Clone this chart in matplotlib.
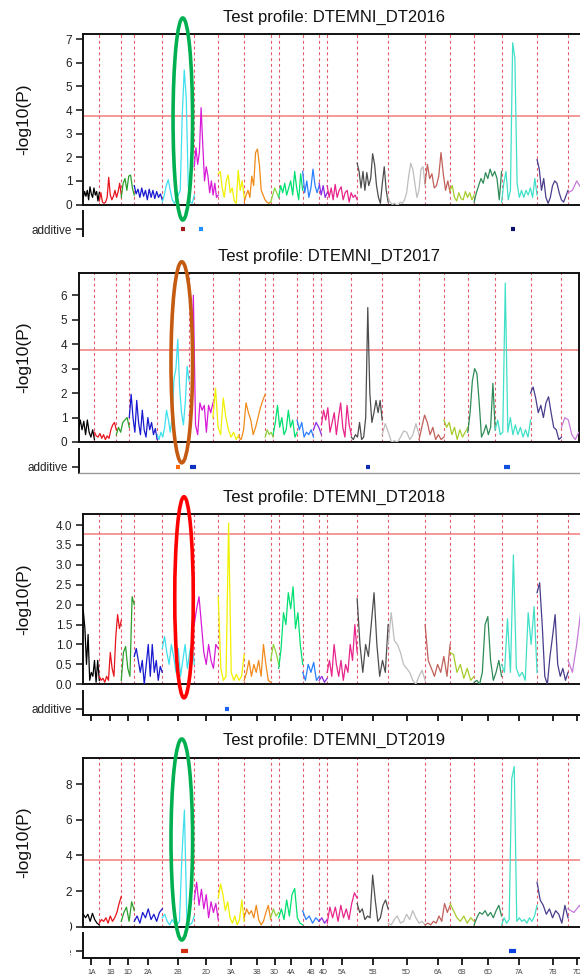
import matplotlib
matplotlib.use("Agg")
import matplotlib.pyplot as plt
from matplotlib.patches import Ellipse, Rectangle
import numpy as np

plt.rcParams['font.family'] = ['Liberation Sans', 'DejaVu Sans']

W, H = 580, 976

chromosomes = ['1A', '1B', '1D', '2A', '2B', '2D', '3A', '3B', '3D', '4A', '4B', '4D',
               '5A', '5B', '5D', '6A', '6B', '6D', '7A', '7B', '7D']
chrom_len_cM = [128, 176, 104, 224, 256, 192, 208, 212, 64, 192, 132, 64,
                240, 248, 296, 200, 192, 220, 284, 248, 139]
chrom_colors = ['#000000', '#e8141c', '#2ca02c', '#1818d0', '#3ee0ee', '#d81ad8', '#f0f000',
                '#f08a1a', '#8fd43c', '#00e070', '#2a7fff', '#8a2be2', '#e8248c', '#4d4d4d',
                '#bdbdbd', '#c0605a', '#a6cc2a', '#2e8b57', '#40e0c8', '#483d8b', '#c47ad8']

threshold = 3.77

dt2016 = [
    [0.3, 0.55, 0.35, 0.6, 0.2, 0.75, 0.45, 0.3, 0.7, 0.4, 0.55, 0.15, 0.5],
    [0.15, 0.5, 0.1, 0.05, 0.1, 0.3, 1.15, 0.4, 0.2, 0.35, 0.6, 0.3, 0.55, 0.9, 0.4],
    [0.3, 0.9, 1.1, 0.6, 1.2, 1.25, 0.7, 0.4],
    [0.8, 0.45, 0.65, 0.3, 0.7, 0.35, 0.6, 0.2, 0.65, 0.3, 0.6, 0.25, 0.55, 0.3, 0.45, 0.2],
    [0.1, 0.4, 0.8, 1.05, 0.6, 0.2, 0.05, 0.2, 0.4, 0.6, 3.8, 5.7, 4.5, 0.8, 0.1, 0.05, 0.4],
    [1.6, 2.4, 1.7, 2.2, 4.1, 2.5, 1.0, 1.6, 1.2, 0.5, 1.0, 0.4, 0.9, 0.3, 0.4],
    [1.3, 1.4, 0.7, 0.3, 1.0, 1.25, 0.5, 0.7, 0.15, 0.05, 1.45, 0.6, 1.0, 0.3],
    [0.1, 0.4, 0.6, 0.3, 1.2, 0.8, 2.2, 2.35, 1.7, 0.6, 0.4, 0.2, 0.1, 0.05, 0.1],
    [0.1, 0.4, 0.7, 0.5, 0.3],
    [0.3, 0.8, 0.5, 0.9, 0.4, 0.7, 1.0, 0.4, 1.4, 0.7, 0.2, 1.3, 0.6],
    [1.4, 0.5, 1.0, 0.3, 0.7, 1.5, 0.8, 0.5, 0.8],
    [0.9, 0.4, 0.8, 0.3, 0.5],
    [0.8, 0.3, 0.7, 0.2, 0.85, 0.3, 0.6, 0.75, 0.2, 0.5, 0.6, 0.1, 0.5, 0.3, 0.4, 0.2],
    [1.75, 1.4, 0.7, 1.4, 0.6, 1.35, 0.8, 1.1, 2.15, 1.7, 0.8, 0.3, 0.05, 0.9, 1.6, 0.6, 0.1],
    [0.3, 0.1, 0.0, 0.05, 0.0, 0.0, 0.1, 0.05, 0.2, 0.5, 1.2, 1.75, 1.5, 0.9, 0.3, 0.6, 1.5, 1.6, 0.8],
    [0.9, 1.7, 1.1, 1.3, 0.7, 0.8, 1.2, 2.2, 1.3, 0.6, 1.0, 0.5],
    [0.6, 0.8, 0.3, 0.15, 0.5, 0.25, 0.2, 0.55, 0.3, 0.5, 0.2, 0.4],
    [0.1, 0.5, 0.8, 1.1, 0.9, 1.35, 1.1, 1.5, 1.2, 1.4, 1.1, 0.2, 1.4],
    [0.1, 0.9, 1.4, 0.2, 0.6, 6.85, 6.2, 0.9, 0.3, 0.6, 0.3, 0.6, 0.4, 0.7, 0.3, 1.1, 0.4],
    [1.9, 1.5, 0.6, 1.1, 0.3, 0.05, 0.3, 0.8, 1.0, 0.9, 0.5, 0.2, 0.1, 0.35, 0.6],
    [0.5, 0.6, 1.0, 0.7, 0.3],
]

dt2017 = [
    [0.5, 0.9, 0.5, 0.85, 0.3, 0.9, 0.4, 0.2, 0.5, 0.1],
    [0.4, 0.25, 0.2, 0.35, 0.15, 0.3, 0.1, 0.25, 0.15, 0.5, 0.7, 0.8, 0.5],
    [0.3, 0.6, 0.4, 0.8, 0.9, 1.0, 0.6],
    [1.0, 1.95, 1.0, 0.4, 1.7, 0.8, 0.3, 1.3, 0.5, 0.2, 1.0, 0.5, 0.8, 0.3, 0.55, 0.1],
    [0.3, 0.1, 0.4, 0.2, 0.6, 1.3, 0.9, 0.4, 1.0, 2.6, 3.0, 4.2, 2.2, 1.2, 0.7, 1.6, 3.1, 2.5],
    [1.1, 0.9, 6.0, 0.7, 0.3, 1.6, 1.3, 1.5, 0.4, 1.5, 1.2, 1.6],
    [1.0, 2.2, 0.6, 0.3, 1.8, 1.0, 0.5, 0.2, 0.4, 0.1, 0.3],
    [0.2, 0.1, 0.5, 1.6, 1.2, 0.9, 0.3, 0.6, 1.0, 1.4, 1.7, 1.95],
    [0.2, 0.5, 0.3, 0.4, 0.2],
    [0.3, 0.8, 1.5, 0.6, 1.0, 0.3, 0.5, 1.3, 0.6, 0.9, 0.2, 0.4],
    [0.9, 0.5, 0.8, 0.2, 0.4, 0.3, 0.5, 0.2],
    [0.5, 0.8, 0.6, 0.3],
    [0.7, 1.3, 0.9, 1.4, 0.4, 0.8, 1.2, 0.3, 1.0, 1.6, 0.6, 0.2, 1.5, 0.7, 0.3],
    [0.2, 0.1, 0.3, 0.2, 0.8, 0.1, 0.2, 1.0, 5.5, 2.0, 0.8, 1.2, 1.7, 1.2, 1.7, 0.9],
    [0.3, 0.75, 0.4, 0.0, 0.05, 0.0, 0.2, 0.45, 0.4, 0.1, 0.3, 0.75, 0.3],
    [0.1, 0.6, 1.1, 0.8, 0.3, 0.6, 0.1, 0.3, 0.1, 0.2],
    [0.9, 0.6, 0.8, 0.3, 0.6, 0.1, 0.5, 0.2, 0.4, 0.6],
    [0.4, 1.2, 2.5, 3.0, 2.8, 1.6, 0.2, 0.4, 0.7, 0.3, 0.6, 2.4, 0.5],
    [0.5, 0.9, 0.3, 0.4, 6.5, 0.4, 1.0, 0.3, 0.7, 0.3, 0.6, 0.2, 0.5, 0.2, 0.9],
    [2.0, 2.25, 1.8, 1.2, 1.5, 1.0, 1.6, 1.85, 1.2, 0.6, 0.5, 0.1, 0.2],
    [0.6, 1.0, 0.9, 0.3, 0.1, 0.4],
]

dt2018 = [
    [1.85, 1.4, 0.5, 1.25, 0.1, 0.3, 0.2, 0.6, 0.05, 0.6, 0.1],
    [0.2, 0.1, 0.15, 0.05, 0.2, 0.1, 0.8, 0.4, 0.2, 1.2, 1.75, 1.4, 1.6],
    [0.1, 0.8, 0.95, 0.4, 0.2, 2.2, 2.0],
    [0.7, 0.9, 0.6, 0.3, 0.6, 0.0, 0.5, 1.0, 0.2, 1.0, 0.3, 0.6, 0.1, 0.45, 0.3],
    [0.9, 1.2, 0.8, 0.5, 1.0, 0.7, 0.3, 0.9, 0.2, 0.6, 1.0, 0.4, 0.8, 1.1, 0.5],
    [1.5, 1.9, 2.2, 1.5, 0.8, 0.5, 1.0, 0.6, 0.4, 1.0, 0.9],
    [2.2, 0.4, 0.1, 0.2, 4.05, 0.3, 0.1, 0.25, 0.1, 0.2, 0.75],
    [0.1, 0.3, 0.6, 0.2, 0.5, 0.3, 0.6, 0.2, 1.0, 0.5, 0.1, 0.05],
    [0.6, 1.0, 0.8, 0.5],
    [0.4, 0.9, 1.8, 1.5, 2.3, 1.9, 2.45, 1.4, 1.8, 1.0, 0.5],
    [0.3, 0.1, 0.5, 0.3, 0.55, 0.1, 0.2],
    [0.1, 0.2, 0.05, 0.15],
    [0.3, 0.6, 0.2, 1.0, 0.5, 0.2, 0.6, 0.1, 0.5, 0.3, 1.0, 0.6, 1.5, 0.8],
    [2.15, 1.0, 0.3, 1.0, 0.7, 1.5, 2.3, 1.0, 0.2, 0.6, 0.3, 1.5],
    [1.0, 1.8, 1.1, 1.0, 0.8, 0.5, 0.4, 0.3, 0.1, 0.0, 0.2, 0.35, 0.1],
    [1.5, 0.6, 0.4, 0.2, 0.5, 0.3, 0.7, 0.2, 1.0],
    [0.8, 0.75, 0.3, 0.5, 0.15, 0.4, 0.1, 0.2],
    [0.05, 0.1, 0.0, 0.3, 1.5, 1.7, 0.6, 0.1, 0.3, 0.6, 0.2],
    [0.5, 0.3, 1.65, 0.3, 3.25, 0.4, 0.2, 0.3, 0.1, 1.8, 1.0, 1.95, 0.3],
    [2.3, 2.55, 1.5, 0.2, 0.0, 0.7, 1.2, 1.75, 0.5, 0.2, 0.4, 0.1, 0.3],
    [0.6, 0.3, 1.0, 1.9, 1.5],
]

dt2019 = [
    [0.7, 0.5, 0.7, 0.3, 0.75, 0.4, 0.2, 0.1],
    [0.2, 0.4, 0.3, 0.5, 0.2, 0.6, 0.3, 0.5, 0.8, 1.3, 1.7],
    [0.3, 0.8, 1.1, 0.3, 1.4, 0.9],
    [0.3, 0.6, 0.2, 0.8, 0.5, 1.0, 0.4, 0.7, 0.3, 0.8, 1.0],
    [0.5, 0.7, 0.3, 0.1, 0.4, 0.2, 0.1, 0.3, 4.0, 6.55, 0.4, 0.1, 0.2, 0.6],
    [1.5, 2.5, 1.2, 2.1, 1.0, 1.8, 0.5, 1.4, 0.8, 1.3, 0.4],
    [1.6, 2.4, 1.8, 0.9, 1.4, 0.5, 0.2, 0.6, 0.1, 0.4, 1.5, 0.3],
    [0.5, 1.0, 0.7, 0.9, 0.5, 1.2, 0.4, 0.1, 0.3, 0.8, 1.2, 0.4],
    [0.5, 1.0, 0.6, 0.8],
    [0.5, 1.0, 0.4, 1.5, 0.6, 1.8, 2.15, 0.5, 0.2, 0.1],
    [0.9, 0.4, 0.6, 0.2, 0.5, 0.3],
    [0.3, 0.5, 0.2, 0.4],
    [0.2, 1.1, 0.5, 1.1, 0.3, 1.2, 0.5, 1.0, 0.4, 1.3, 1.9, 1.6],
    [1.3, 0.8, 1.0, 0.4, 0.6, 0.5, 2.9, 1.5, 0.3, 0.5, 1.2, 1.5, 1.0],
    [0.2, 0.1, 0.4, 0.6, 0.2, 0.3, 0.7, 0.4, 0.9, 0.5, 0.2, 0.3, 0.1],
    [0.1, 0.2, 0.1, 0.3, 0.2, 0.6, 0.3, 1.3, 0.8, 1.2],
    [1.3, 0.9, 0.5, 0.3, 0.6, 0.2, 0.5, 0.3],
    [0.1, 0.5, 0.8, 0.7, 0.9, 0.6, 0.8, 0.5, 0.9, 1.2, 0.6],
    [0.1, 0.5, 0.2, 0.4, 8.3, 9.0, 0.3, 0.5, 0.3, 0.4, 0.2, 0.5, 0.3, 0.6, 1.2],
    [2.5, 1.5, 1.2, 0.7, 1.0, 0.5, 0.9, 0.7, 0.2, 1.2, 0.5],
    [1.0, 0.8, 1.2, 0.5],
]

# additive QTL markers: (chromosome, position cM, width cM, colour)
qtl2016 = [('2B', 164, 32, '#a01818'), ('2D', 52, 32, '#1e90ff'), ('7A', 91, 32, '#101070')]
qtl2017 = [('2B', 166, 30, '#ff6a10'), ('2D', 33, 44, '#1030c0'),
           ('5B', 136, 34, '#1030b0'), ('7A', 97, 48, '#1050e0')]
qtl2018 = [('3A', 73, 32, '#1e60f0')]
qtl2019 = [('2B', 177, 56, '#d03010'), ('7A', 91, 56, '#0a40e0')]

titles = ['Test profile: DTEMNI_DT2016', 'Test profile: DTEMNI_DT2017',
          'Test profile: DTEMNI_DT2018', 'Test profile: DTEMNI_DT2019']

# layout (pixels)
panels = [
    dict(data=dt2016, qtl=qtl2016, l=83.3, r=585.4, t=34.3, b=204.5, ymax=7.21,
         yticks=list(range(8)), fmt='{:g}', strip='none',
         ell=(182.8, 119, 19.5, 202, '#00b050')),
    dict(data=dt2017, qtl=qtl2017, l=78.5, r=578.7, t=273.3, b=442.0, ymax=6.9,
         yticks=list(range(7)), fmt='{:g}', strip='line',
         ell=(181.8, 362.3, 21.6, 201, '#c55a11')),
    dict(data=dt2018, qtl=qtl2018, l=83.3, r=585.4, t=514.3, b=684.3, ymax=4.27,
         yticks=[0, 0.5, 1, 1.5, 2, 2.5, 3, 3.5, 4], fmt='{:.1f}', strip='ticks',
         ell=(184, 597.3, 18.5, 201, '#ff0000')),
    dict(data=dt2019, qtl=qtl2019, l=83.3, r=585.4, t=757.7, b=926.7, ymax=9.49,
         yticks=[0, 2, 4, 6, 8], fmt='{:g}', strip='labels',
         ell=(181.8, 839.5, 21.6, 201, '#00b050')),
]


def box(l, t, r, b):
    return [l / W, 1 - b / H, (r - l) / W, (b - t) / H]


fig = plt.figure(figsize=(W / 100, H / 100), dpi=100)
ends = np.cumsum(chrom_len_cM)
starts = ends - np.array(chrom_len_cM)
centers = (starts + ends) / 2
total = ends[-1]
SPINE = 1.4

for p, title in zip(panels, titles):
    ax = fig.add_axes(box(p['l'], p['t'], p['r'], p['b']))
    for i, vals in enumerate(p['data']):
        x = np.linspace(starts[i], ends[i], len(vals))
        ax.plot(x, vals, color=chrom_colors[i], lw=0.9, zorder=3)
    for e in ends[:-1]:
        ax.axvline(e, color='#e05a6c', lw=0.8, ls=(0, (2.6, 2.6)), zorder=2)
    ax.axhline(threshold, color='#f27c7c', lw=1.1, zorder=2)
    ax.set_xlim(0, total)
    ax.set_ylim(0, p['ymax'])
    ax.set_xticks([])
    ax.set_yticks(p['yticks'])
    ax.set_yticklabels([p['fmt'].format(v) for v in p['yticks']])
    ax.tick_params(axis='y', length=5, width=1.2, labelsize=8.5, pad=3, colors='#222222')
    for s in ax.spines.values():
        s.set_linewidth(SPINE)
        s.set_color('#111111')
    cx = (p['l'] + p['r']) / 2
    fig.text(cx / W, 1 - (p['t'] - 17) / H, title, ha='center', va='center',
             fontsize=12, color='#111111')
    fig.text(24 / W, 1 - ((p['t'] + p['b']) / 2) / H, '-log10(P)', rotation=90,
             ha='center', va='center', fontsize=12.5, color='#111111')

    # additive strip
    st = p['b'] + 6.5
    sb = st + 24.5
    sax = fig.add_axes(box(p['l'], st, p['r'], sb))
    sax.set_xlim(0, total)
    sax.set_ylim(0, 1)
    sax.set_yticks([0.265])
    sax.set_yticklabels(['additive'])
    sax.tick_params(axis='y', length=5, width=1.2, labelsize=8.5, pad=3, colors='#222222')
    sax.spines['top'].set_visible(False)
    sax.spines['right'].set_visible(False)
    sax.spines['left'].set_linewidth(SPINE)
    sax.spines['left'].set_color('#111111')
    sax.patch.set_alpha(0)
    for chrom, pos, wid, col in p['qtl']:
        k = chromosomes.index(chrom)
        x0 = starts[k] + pos - wid / 2
        sax.hlines(0.265, x0, x0 + wid, color=col, lw=3.0, capstyle='butt', zorder=4)
    if p['strip'] == 'none':
        sax.spines['bottom'].set_visible(False)
        sax.set_xticks([])
    elif p['strip'] == 'line':
        sax.spines['bottom'].set_color('#9a9a9a')
        sax.spines['bottom'].set_linewidth(1.0)
        sax.set_xticks([])
    else:
        sax.spines['bottom'].set_linewidth(SPINE)
        sax.spines['bottom'].set_color('#111111')
        sax.set_xticks(centers)
        if p['strip'] == 'ticks':
            sax.set_xticklabels([])
            sax.tick_params(axis='x', length=4, width=1.2)
        else:
            sax.set_xticklabels(chromosomes)
            sax.tick_params(axis='x', length=5, width=1.2, labelsize=5, pad=3,
                            labelcolor='#444444')

    ex, ey, ew, eh, ec = p['ell']
    fig.add_artist(Ellipse((ex / W, 1 - ey / H), ew / W, eh / H, transform=fig.transFigure,
                           fill=False, ec=ec, lw=2.6, zorder=12))

# white cover over the left edge of the last panel's lower labels
fig.add_artist(Rectangle((0, 0), 69.5 / W, (H - 912) / H, transform=fig.transFigure,
                         facecolor='white', edgecolor='none', zorder=11))

fig.savefig('out.png', dpi=100)
